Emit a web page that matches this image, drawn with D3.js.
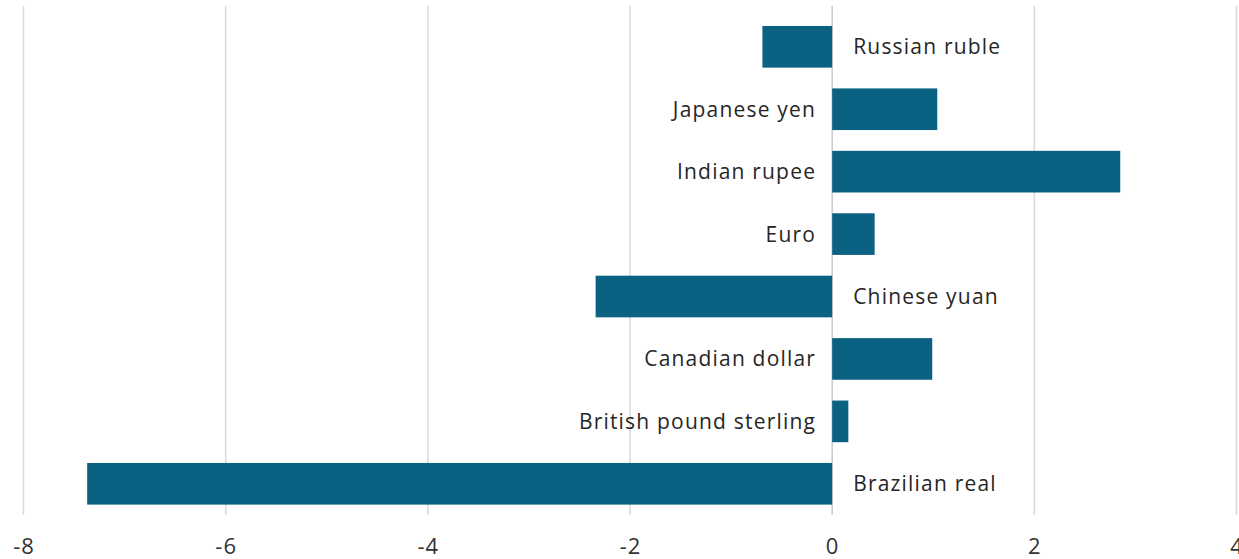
<!DOCTYPE html>
<html>
<head>
<meta charset="utf-8">
<script src="https://cdn.jsdelivr.net/npm/d3@7"></script>
<style>
  html, body { margin: 0; padding: 0; background: #fff; }
  svg { display: block; }
  text { font-family: "Open Sans", "Noto Sans", sans-serif; }
</style>
</head>
<body>
<svg id="chart" width="1239" height="559"></svg>
<script>
// Currency changes, top to bottom
const currencies = ["Russian ruble", "Japanese yen", "Indian rupee", "Euro",
  "Chinese yuan", "Canadian dollar", "British pound sterling", "Brazilian real"];
const changes = [-0.69, 1.04, 2.85, 0.42, -2.34, 0.99, 0.16, -7.37];
const xTicks = [-8, -6, -4, -2, 0, 2, 4];

const svg = d3.select("#chart");
const plot = { left: 23.5, right: 1236.5, top: 15.6, bottom: 515 };

const x = d3.scaleLinear().domain([-8, 4]).range([plot.left, plot.right]);
const y = d3.scaleBand().domain(currencies)
  .range([plot.top, plot.bottom]).paddingInner(0.333).paddingOuter(0.1665);

const data = currencies.map((c, i) => ({ name: c, value: changes[i] }));

// vertical gridlines
svg.append("g")
  .selectAll("line")
  .data(xTicks)
  .join("line")
  .attr("x1", d => x(d)).attr("x2", d => x(d))
  .attr("y1", 6).attr("y2", plot.bottom)
  .attr("stroke", d => d === 0 ? "#d0c8c8" : "#d9d9d9")
  .attr("stroke-width", 1.5);

// bars
svg.append("g")
  .selectAll("rect")
  .data(data)
  .join("rect")
  .attr("x", d => x(Math.min(0, d.value)))
  .attr("width", d => Math.abs(x(d.value) - x(0)))
  .attr("y", d => y(d.name))
  .attr("height", y.bandwidth())
  .attr("fill", "#0b6182");

// category labels on the opposite side of the zero line
svg.append("g")
  .selectAll("text")
  .data(data)
  .join("text")
  .attr("x", d => d.value < 0 ? x(0) + 21 : x(0) - 16)
  .attr("y", d => y(d.name) + y.bandwidth() / 2)
  .attr("dy", "0.36em")
  .attr("text-anchor", d => d.value < 0 ? "start" : "end")
  .attr("font-size", 21)
  .attr("letter-spacing", 1.2)
  .attr("fill", "#262626")
  .text(d => d.name);

// x axis tick labels
const axis = d3.axisBottom(x).tickValues(xTicks).tickSize(0).tickPadding(0)
  .tickFormat(d3.format("d"));
const gAxis = svg.append("g").attr("transform", `translate(0,${plot.bottom})`).call(axis);
gAxis.select(".domain").remove();
gAxis.selectAll("text")
  .attr("y", 31)
  .attr("dy", "0.36em")
  .attr("font-size", 22)
  .attr("letter-spacing", 1)
  .attr("font-family", "'Open Sans', 'Noto Sans', sans-serif")
  .attr("fill", "#333333")
  .text(d => d < 0 ? "-" + Math.abs(d) : d);
</script>
</body>
</html>
